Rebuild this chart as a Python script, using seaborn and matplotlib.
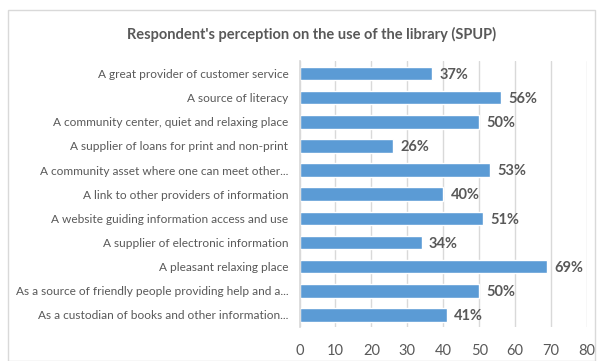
import matplotlib
matplotlib.use("Agg")
import matplotlib.pyplot as plt
import seaborn as sns
import pandas as pd
from matplotlib.patches import Rectangle

categories = [
    "A great provider of customer service",
    "A source of literacy",
    "A community center, quiet and relaxing place",
    "A supplier of loans for print and non-print",
    "A community asset where one can meet other...",
    "A link to other providers of information",
    "A website guiding information access and use",
    "A supplier of electronic information",
    "A pleasant relaxing place",
    "As a source of friendly people providing help and a...",
    "As a custodian of books and other information...",
]
values = [37, 56, 50, 26, 53, 40, 51, 34, 69, 50, 41]
xticks = [0, 10, 20, 30, 40, 50, 60, 70, 80]

df = pd.DataFrame({"category": categories, "value": values})

sns.set_theme(style="white")
plt.rcParams["font.family"] = ["Lato", "DejaVu Sans"]
txt = "#595959"

fig = plt.figure(figsize=(5.99, 3.61), dpi=100)
ax = fig.add_axes([0.5, 0.094, 0.48, 0.736])

sns.barplot(data=df, x="value", y="category", color="#5B9BD5", width=0.56,
            saturation=1, ax=ax, zorder=3)

ax.set_xlim(0, 80)
ax.set_xticks(xticks)
ax.set_xticklabels([str(t) for t in xticks], fontsize=10.5, color=txt)
ax.tick_params(axis="y", labelsize=8.6, colors=txt, length=0, pad=8)
ax.tick_params(axis="x", length=0, pad=12)
ax.set_xlabel("")
ax.set_ylabel("")
ax.grid(axis="x", color="#D9D9D9", linewidth=1, zorder=0)
for s in ["top", "right", "bottom"]:
    ax.spines[s].set_visible(False)
ax.spines["left"].set_color("#D9D9D9")
ax.spines["left"].set_zorder(4)

for i, v in enumerate(values):
    ax.text(v + 2.0, i + 0.05, f"{v}%", va="center", ha="left", fontsize=10.5,
            color=txt, fontweight="bold")

fig.text(0.52, 0.905, "Respondent's perception on the use of the library (SPUP)",
         ha="center", va="center", fontsize=10.5, color=txt, fontweight="bold")

fig.patches.append(Rectangle((0.014, 0.0), 0.98, 0.972, transform=fig.transFigure,
                             fill=False, edgecolor="#D9D9D9", linewidth=1))

fig.savefig("out.png", dpi=100)
